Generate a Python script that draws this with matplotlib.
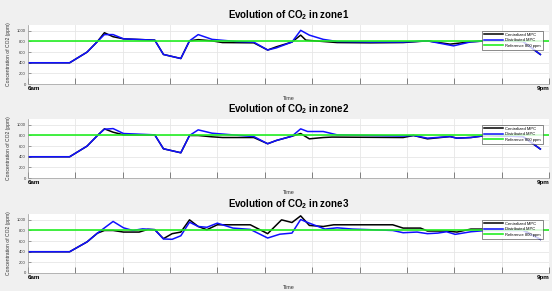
# -*- coding: utf-8 -*-

import matplotlib
matplotlib.use('Agg')
import matplotlib.pyplot as plt
import numpy as np

# time axis in hours (6am .. 9pm)
x_ticks = np.linspace(6, 21, 12)
x_tick_labels = ['6am'] + [''] * 10 + ['9pm']
y_ticks = [0, 200, 400, 600, 800, 1000]
reference = 800

# zone1
c1_t = [6.0, 7.2, 7.7, 8.0, 8.2, 8.45, 8.75, 9.65, 9.9, 10.4, 10.65, 10.9, 11.3, 11.6, 12.5, 12.9,
        13.15, 13.6, 13.85, 14.0, 14.9, 15.85, 16.8, 17.5, 18.15, 18.75, 19.2, 20.25, 20.75]
c1 = [400, 400, 600, 800, 965, 890, 850, 825, 556, 480, 812, 835, 812, 780, 775, 640,
      700, 790, 920, 825, 780, 775, 780, 812, 750, 794, 812, 800, 556]
d1_t = [6.0, 7.2, 7.7, 8.0, 8.2, 8.45, 8.75, 9.65, 9.9, 10.4, 10.65, 10.9, 11.3, 12.0, 12.5, 12.9,
        13.15, 13.6, 13.85, 14.1, 14.5, 14.9, 15.85, 16.8, 17.5, 18.25, 18.75, 19.2, 20.25, 20.75]
d1 = [400, 400, 600, 800, 930, 930, 850, 825, 556, 480, 812, 930, 840, 800, 788, 640,
      680, 790, 1010, 920, 840, 800, 790, 790, 812, 718, 794, 812, 800, 556]

# zone2
c2_t = [6.0, 7.2, 7.7, 8.0, 8.2, 8.45, 8.75, 9.65, 9.9, 10.4, 10.65, 10.9, 11.3, 11.6, 12.5, 12.9,
        13.15, 13.6, 13.85, 14.1, 14.5, 14.75, 16.8, 17.1, 17.5, 18.15, 18.35, 18.75, 19.2, 20.25, 20.75]
c2 = [400, 400, 600, 800, 925, 862, 812, 812, 550, 475, 800, 800, 775, 762, 762, 645,
      706, 787, 837, 737, 762, 770, 762, 800, 737, 780, 750, 762, 800, 780, 545]
d2_t = [6.0, 7.2, 7.7, 8.0, 8.2, 8.45, 8.75, 9.65, 9.9, 10.4, 10.65, 10.9, 11.3, 12.5, 12.9,
        13.15, 13.6, 13.85, 14.05, 14.5, 14.9, 16.8, 17.1, 17.5, 18.15, 18.35, 18.75, 19.2, 20.25, 20.75]
d2 = [400, 400, 600, 800, 918, 930, 837, 812, 550, 475, 800, 906, 843, 780, 645,
      706, 787, 925, 875, 875, 812, 790, 800, 750, 780, 750, 762, 800, 780, 545]

# zone3
c3_t = [6.0, 7.2, 7.7, 8.0, 8.2, 8.45, 8.75, 9.2, 9.45, 9.65, 9.9, 10.15, 10.4, 10.65, 10.9, 11.15,
        11.45, 12.4, 12.9, 13.3, 13.6, 13.85, 14.1, 14.5, 14.8, 16.5, 16.8, 17.3, 17.5, 18.05, 18.35,
        18.75, 19.2, 20.25, 20.75]
c3 = [400, 400, 585, 750, 800, 800, 770, 770, 820, 815, 646, 740, 770, 1000, 875, 814,
      907, 907, 740, 1000, 950, 1075, 895, 875, 907, 907, 845, 845, 790, 790, 770,
      826, 826, 815, 633]
d3_t = [6.0, 7.2, 7.7, 8.0, 8.45, 8.75, 9.02, 9.3, 9.65, 9.9, 10.15, 10.4, 10.65, 10.9, 11.15, 11.45,
        11.9, 12.4, 12.9, 13.25, 13.6, 13.85, 14.1, 14.55, 14.9, 15.35, 16.5, 16.8, 17.2, 17.5, 17.8,
        18.05, 18.3, 18.75, 19.2, 20.25, 20.75]
d3 = [400, 400, 585, 750, 970, 850, 800, 830, 815, 640, 634, 700, 956, 875, 860, 938,
      845, 820, 658, 730, 751, 1006, 938, 826, 850, 826, 800, 758, 770, 740, 751,
      776, 727, 776, 800, 800, 633]

zones = [('zone1', c1_t, c1, d1_t, d1),
         ('zone2', c2_t, c2, d2_t, d2),
         ('zone3', c3_t, c3, d3_t, d3)]

plt.rcParams['font.family'] = ['Liberation Sans', 'DejaVu Sans']
plt.rcParams['mathtext.fontset'] = 'custom'
plt.rcParams['mathtext.rm'] = 'Liberation Sans'
plt.rcParams['mathtext.bf'] = 'Liberation Sans:bold'

fig = plt.figure(figsize=(5.52, 2.91), dpi=100, facecolor='#f0f0f0')

# axes rectangles in figure fraction
tops = [0.914, 0.591, 0.2646]
height = 0.2027
left = 0.0507
width = 0.9439

for i, (zone, ct, cv, dt, dv) in enumerate(zones):
    ax = fig.add_axes([left, tops[i] - height, width, height])
    ax.set_facecolor('white')
    ax.plot(ct, cv, color='black', lw=1.1, label='Centralized MPC')
    ax.plot(dt, dv, color='#1010ff', lw=1.1, label='Distributed MPC')
    ax.axhline(reference, color='#22ee22', lw=1.2, label='Reference 800 ppm')

    ax.set_xlim(6, 21)
    ax.set_ylim(0, 1110)
    ax.set_xticks(x_ticks)
    ax.set_xticklabels(x_tick_labels, fontsize=4.5, fontweight='bold')
    lbls = ax.get_xticklabels()
    lbls[0].set_ha('left')
    lbls[-1].set_ha('right')
    ax.set_yticks(y_ticks)
    ax.set_yticklabels([str(v) for v in y_ticks], fontsize=3, color='#333333')
    ax.tick_params(axis='x', direction='in', length=4, width=0.5, color='#555555', pad=1.5)
    ax.tick_params(axis='y', direction='in', length=2, width=0.4, color='#555555', pad=1.5)
    ax.grid(True, color='#e6e6e6', lw=0.6)
    ax.set_axisbelow(True)
    for s in ['top', 'right']:
        ax.spines[s].set_visible(False)
    for s in ['left', 'bottom']:
        ax.spines[s].set_color('#9a9a9a')
        ax.spines[s].set_linewidth(0.5)

    ax.set_title(r'Evolution of CO$_\mathbf{2}$ in ' + zone, fontsize=7,
                 fontweight='bold', pad=5)
    ax.set_xlabel('Time', fontsize=4, color='#333333')
    ax.xaxis.set_label_coords(0.5, -0.2)
    ax.set_ylabel('Concentration of CO2 (ppm)', fontsize=3.6, color='#333333')
    ax.yaxis.set_label_coords(-0.032, 0.5)

    leg = ax.legend(loc='upper right', bbox_to_anchor=(0.992, 0.94), fontsize=3,
                    frameon=True, fancybox=False, handlelength=4.5, borderpad=0.5,
                    labelspacing=0.35, handletextpad=0.6)
    leg.get_frame().set_edgecolor('#333333')
    leg.get_frame().set_linewidth(0.5)

fig.savefig('out.png', dpi=100, facecolor=fig.get_facecolor())
